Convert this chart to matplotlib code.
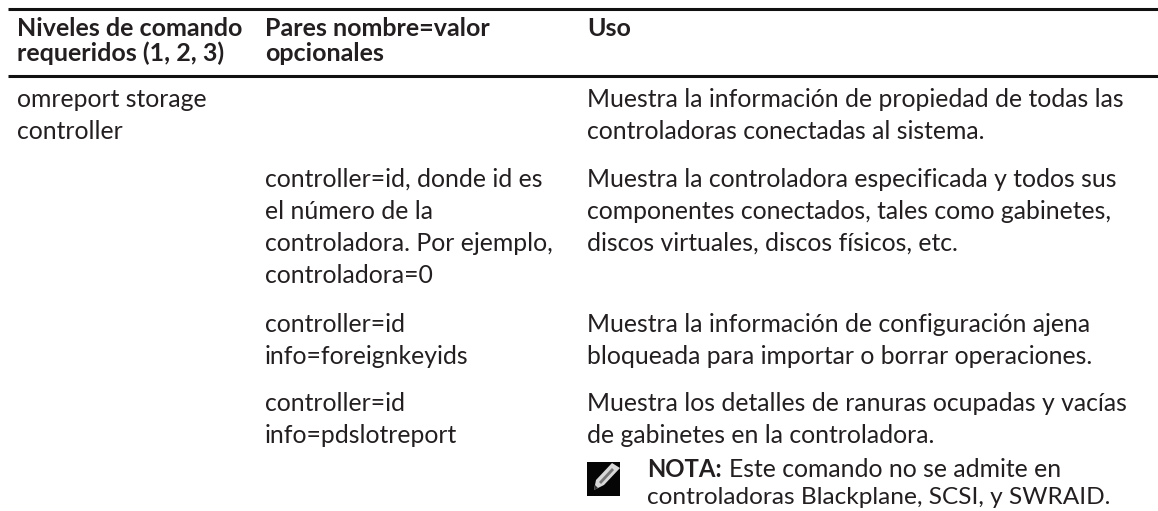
import matplotlib

matplotlib.use("Agg")
import matplotlib.pyplot as plt
from matplotlib.patches import Polygon, Rectangle

W, H = 1158, 511
INK = "#231f20"

header_col1 = ["Niveles de comando", "requeridos (1, 2, 3)"]
header_col2 = ["Pares nombre=valor", "opcionales"]
header_col3 = ["Uso"]

col1_lines = ["omreport storage", "controller"]
col2_row2 = ["controller=id, donde id es", "el número de la", "controladora. Por ejemplo,", "controladora=0"]
col2_row3 = ["controller=id", "info=foreignkeyids"]
col2_row4 = ["controller=id", "info=pdslotreport"]
col3_row1 = ["Muestra la información de propiedad de todas las", "controladoras conectadas al sistema."]
col3_row2 = [
    "Muestra la controladora especificada y todos sus",
    "componentes conectados, tales como gabinetes,",
    "discos virtuales, discos físicos, etc.",
]
col3_row3 = ["Muestra la información de configuración ajena", "bloqueada para importar o borrar operaciones."]
col3_row4 = ["Muestra los detalles de ranuras ocupadas y vacías", "de gabinetes en la controladora."]
note_label = "NOTA:"
note_lines = ["Este comando no se admite en", "controladoras Blackplane, SCSI, y SWRAID."]

plt.rcParams["font.family"] = ["Lato", "DejaVu Sans"]

fig = plt.figure(figsize=(W / 100, H / 100), dpi=100)
ax = fig.add_axes([0, 0, 1, 1])
ax.set_xlim(0, W)
ax.set_ylim(H, 0)
ax.axis("off")

BODY = 17.8
HEAD = 18.0
COL1, COL2, COL3 = 17, 265, 587


def block(x, y, lines, step=32, **kw):
    kw.setdefault("fontsize", BODY)
    for i, line in enumerate(lines):
        ax.text(x, y + i * step, line, color=INK, va="baseline", ha="left", **kw)


# rules
ax.plot([8, 1158], [9.5, 9.5], color="#111111", lw=2.2, solid_capstyle="butt")
ax.plot([8, 1158], [76, 76], color="#111111", lw=2.2, solid_capstyle="butt")

# header
block(COL1, 36.5, header_col1, step=24.5, fontsize=HEAD, fontweight="bold")
block(COL2, 36.5, header_col2, step=24.5, fontsize=HEAD, fontweight="bold")
block(COL3, 36.5, header_col3, step=24.5, fontsize=HEAD, fontweight="bold")

# body
block(COL1, 107, col1_lines)
block(COL2, 187, col2_row2)
block(COL2, 332, col2_row3)
block(COL2, 411, col2_row4)
block(COL3, 107, col3_row1)
block(COL3, 187, col3_row2)
block(COL3, 332, col3_row3)
block(COL3, 411, col3_row4)

# note
label = ax.text(647, 477, note_label, color=INK, fontsize=17.2, fontweight="bold", va="baseline")
fig.canvas.draw()
label_end = ax.transData.inverted().transform(label.get_window_extent().extents[2:])[0]
ax.text(label_end + 7, 477, note_lines[0], color=INK, fontsize=BODY, va="baseline")
ax.text(647, 504, note_lines[1], color=INK, fontsize=17.6, va="baseline")

# pencil icon
ax.add_patch(Rectangle((587, 462), 33, 34, fc="#050505", ec="none"))
ax.add_patch(Polygon([(594, 490), (596, 480), (612, 463), (620, 468), (604, 485)], fc="#d8d8d8", ec="none"))
ax.add_patch(Polygon([(599, 482), (612, 468), (614, 470), (601, 484)], fc="#777777", ec="none"))
ax.add_patch(Polygon([(594, 490), (595, 485), (598, 488)], fc="#333333", ec="none"))

fig.savefig("out.png", dpi=100)
